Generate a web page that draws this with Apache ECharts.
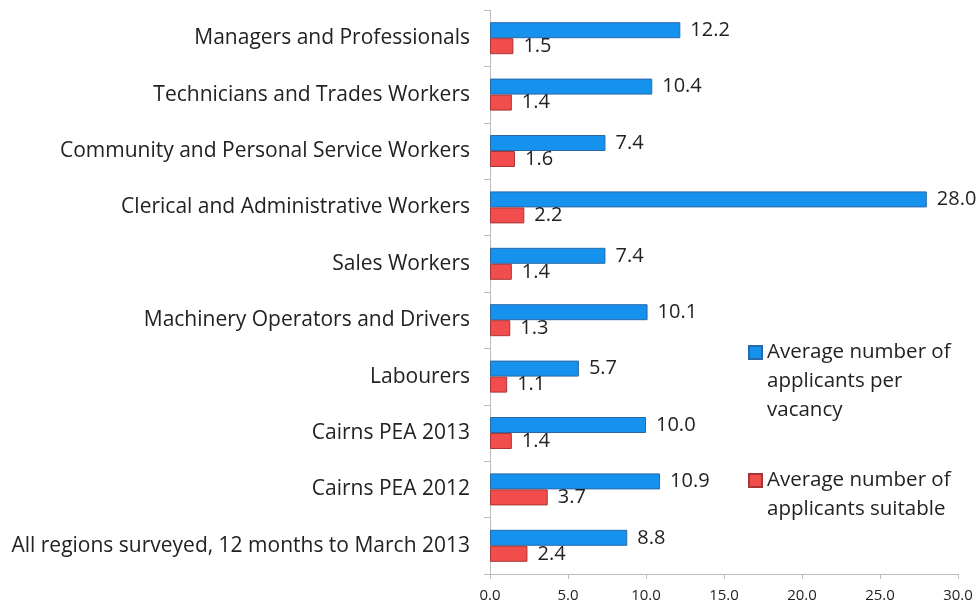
<!DOCTYPE html>
<html>
<head>
<meta charset="utf-8">
<script src="https://cdn.jsdelivr.net/npm/echarts@6/dist/echarts.min.js"></script>
<style>
  html, body { margin: 0; padding: 0; background: #fff; }
  #chart { width: 978px; height: 608px; }
</style>
</head>
<body>
<div id="chart"></div>
<script>
const categories = [
  'Managers and Professionals',
  'Technicians and Trades Workers',
  'Community and Personal Service Workers',
  'Clerical and Administrative Workers',
  'Sales Workers',
  'Machinery Operators and Drivers',
  'Labourers',
  'Cairns PEA 2013',
  'Cairns PEA 2012',
  'All regions surveyed, 12 months to March 2013'
]
const perVacancy = [12.2, 10.4, 7.4, 28.0, 7.4, 10.1, 5.7, 10.0, 10.9, 8.8]
const suitable = [1.5, 1.4, 1.6, 2.2, 1.4, 1.3, 1.1, 1.4, 3.7, 2.4]
const seriesNames = ['Average number of applicants per vacancy', 'Average number of applicants suitable']
// leading blank lines keep the icon level with the first line of text
const legendText = ['\n\nAverage number of\napplicants per\nvacancy', '\nAverage number of\napplicants suitable']

const font = 'Open Sans'
const lineH = 29
const myChart = echarts.init(document.getElementById('chart'))

const labelStyle = {
  show: true,
  position: 'right',
  distance: 10,
  fontFamily: font,
  fontSize: 20,
  color: '#222',
  formatter: (p) => p.value.toFixed(1),
}

const option = {
  backgroundColor: '#fff',
  animation: false,
  grid: { left: 490, right: 20, top: 10, bottom: 34 },
  legend: {
    orient: 'vertical',
    left: 748,
    top: 280,
    padding: 0,
    icon: 'rect',
    itemWidth: 13,
    itemHeight: 13,
    itemGap: 12,
    data: seriesNames,
    textStyle: { fontFamily: font, fontSize: 20.5, color: '#222', lineHeight: lineH },
    formatter: (name) => legendText[seriesNames.indexOf(name)],
  },
  xAxis: {
    type: 'value',
    min: 0,
    max: 30,
    interval: 5,
    axisLine: { show: true, lineStyle: { color: '#bdbdbd' } },
    axisTick: { show: true, length: 5, lineStyle: { color: '#bdbdbd' } },
    splitLine: { show: false },
    axisLabel: { fontFamily: font, fontSize: 15, color: '#222', margin: 14, formatter: (v) => v.toFixed(1) },
  },
  yAxis: {
    type: 'category',
    inverse: true,
    data: categories,
    axisLine: { lineStyle: { color: '#bdbdbd' } },
    axisTick: { show: true, length: 6, lineStyle: { color: '#bdbdbd' } },
    axisLabel: { fontFamily: font, fontSize: 21, color: '#222', margin: 20 },
  },
  series: [
    {
      name: seriesNames[0],
      type: 'bar',
      data: perVacancy,
      barWidth: 16,
      barGap: '0%',
      itemStyle: { color: '#1591ee', borderColor: '#2a69a8', borderWidth: 1 },
      label: labelStyle,
    },
    {
      name: seriesNames[1],
      type: 'bar',
      data: suitable,
      barWidth: 16,
      barGap: '0%',
      itemStyle: { color: '#f24d4d', borderColor: '#a83636', borderWidth: 1 },
      label: labelStyle,
    },
  ],
}

myChart.setOption(option)
</script>
</body>
</html>
